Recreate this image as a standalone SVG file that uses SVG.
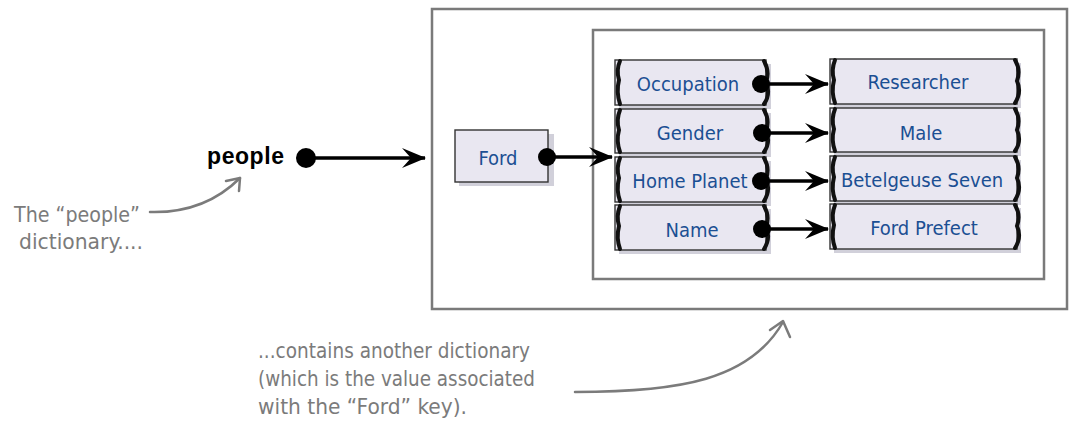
<svg xmlns="http://www.w3.org/2000/svg" width="1070" height="429" viewBox="0 0 1070 429">
<style>
.box{fill:none;stroke:#7a7a7a;stroke-width:2.5}
.cell{fill:#e9e7f1;stroke:#333;stroke-width:1.4}
.shadow{fill:#9a96ad;opacity:0.45}
.edge{fill:none;stroke:#111;stroke-width:4;stroke-linecap:round}
.ct{font-family:"DejaVu Sans Condensed","Liberation Sans Narrow","Liberation Sans",sans-serif;font-size:20px;fill:#1b4f93;text-anchor:middle}
.note{font-family:"DejaVu Sans Condensed","Liberation Sans Narrow","Liberation Sans",sans-serif;font-size:21px;fill:#7b7b7b}
.conn{fill:none;stroke:#000;stroke-width:3.5}
.dot{fill:#000}
.ann{fill:none;stroke:#7b7b7b;stroke-width:2.5;stroke-linecap:round;stroke-linejoin:round}
</style>
<defs>
<marker id="big" markerWidth="24" markerHeight="20" refX="23" refY="10" orient="auto" markerUnits="userSpaceOnUse" viewBox="0 0 24 20">
<path d="M0,0 L24,10 L0,20 L9,10 z" fill="#000"/>
</marker>
</defs>

<rect class="box" x="432" y="9" width="635" height="300"/>
<rect class="box" x="593" y="30" width="451" height="249"/>

<g id="people">
<text x="207" y="164" font-family="'Liberation Sans', Arial, sans-serif" font-size="23" font-weight="bold" fill="#000" textLength="77">people</text>
</g>

<g id="ford">
<rect class="shadow" x="459" y="134" width="95" height="52"/>
<rect class="cell" x="455" y="130" width="93" height="52"/>
<text class="ct" x="498" y="165">Ford</text>
</g>

<g id="occupation">
<rect class="shadow" x="619" y="64" width="152" height="45"/>
<rect class="cell" x="615" y="60" width="151" height="45"/>
<path class="edge" d="M620,61 Q616,70 619,80 Q616,92 620,104"/>
<path class="edge" d="M764,61 Q770,72 766,82 Q771,94 764,104"/>
<text class="ct" x="688" y="91">Occupation</text>
</g>
<g id="gender">
<rect class="shadow" x="619" y="113" width="152" height="44"/>
<rect class="cell" x="615" y="109" width="151" height="44"/>
<path class="edge" d="M620,110 Q616,120 619,130 Q616,141 620,152"/>
<path class="edge" d="M764,110 Q770,120 766,131 Q771,142 764,152"/>
<text class="ct" x="690" y="140">Gender</text>
</g>
<g id="homeplanet">
<rect class="shadow" x="619" y="161" width="152" height="45"/>
<rect class="cell" x="615" y="157" width="151" height="45"/>
<path class="edge" d="M620,158 Q616,168 619,178 Q616,190 620,201"/>
<path class="edge" d="M764,158 Q770,168 766,179 Q771,190 764,201"/>
<text class="ct" x="690" y="188">Home Planet</text>
</g>
<g id="name">
<rect class="shadow" x="619" y="209" width="152" height="45"/>
<rect class="cell" x="615" y="205" width="151" height="45"/>
<path class="edge" d="M620,206 Q616,216 619,226 Q616,238 620,249"/>
<path class="edge" d="M764,206 Q770,216 766,227 Q771,238 764,249"/>
<text class="ct" x="692" y="237">Name</text>
</g>

<g id="researcher">
<rect class="shadow" x="834" y="63" width="187" height="45"/>
<rect class="cell" x="830" y="59" width="187" height="45"/>
<path class="edge" d="M835,60 Q831,70 834,80 Q831,92 835,103"/>
<path class="edge" d="M1015,60 Q1021,70 1017,81 Q1022,92 1015,103"/>
<text class="ct" x="918" y="89">Researcher</text>
</g>
<g id="male">
<rect class="shadow" x="834" y="112" width="187" height="44"/>
<rect class="cell" x="830" y="108" width="187" height="44"/>
<path class="edge" d="M835,109 Q831,119 834,129 Q831,140 835,151"/>
<path class="edge" d="M1015,109 Q1021,119 1017,130 Q1022,141 1015,151"/>
<text class="ct" x="921" y="140">Male</text>
</g>
<g id="betelgeuse">
<rect class="shadow" x="834" y="160" width="187" height="45"/>
<rect class="cell" x="830" y="156" width="187" height="45"/>
<path class="edge" d="M835,157 Q831,167 834,177 Q831,189 835,200"/>
<path class="edge" d="M1015,157 Q1021,167 1017,178 Q1022,189 1015,200"/>
<text class="ct" x="922" y="187">Betelgeuse Seven</text>
</g>
<g id="fordprefect">
<rect class="shadow" x="834" y="208" width="187" height="45"/>
<rect class="cell" x="830" y="204" width="187" height="45"/>
<path class="edge" d="M835,205 Q831,215 834,225 Q831,237 835,248"/>
<path class="edge" d="M1015,205 Q1021,215 1017,226 Q1022,237 1015,248"/>
<text class="ct" x="924" y="235">Ford Prefect</text>
</g>

<g id="connectors">
<circle class="dot" cx="306" cy="158" r="10"/>
<line class="conn" x1="306" y1="158" x2="425" y2="158" marker-end="url(#big)"/>
<circle class="dot" cx="547" cy="157" r="9"/>
<line class="conn" x1="547" y1="157" x2="612" y2="157" marker-end="url(#big)"/>
<circle class="dot" cx="761" cy="84" r="9"/>
<line class="conn" x1="761" y1="84" x2="828" y2="84" marker-end="url(#big)"/>
<circle class="dot" cx="762" cy="133" r="9"/>
<line class="conn" x1="762" y1="133" x2="828" y2="133" marker-end="url(#big)"/>
<circle class="dot" cx="761" cy="181" r="9"/>
<line class="conn" x1="761" y1="181" x2="828" y2="181" marker-end="url(#big)"/>
<circle class="dot" cx="762" cy="229" r="9"/>
<line class="conn" x1="762" y1="229" x2="828" y2="229" marker-end="url(#big)"/>
</g>

<g id="note-people">
<text class="note" x="14" y="222" textLength="126" lengthAdjust="spacingAndGlyphs">The “people”</text>
<text class="note" x="19" y="249" textLength="124" lengthAdjust="spacingAndGlyphs">dictionary....</text>
<path class="ann" d="M150,212 C185,213 215,203 240,178"/>
<path class="ann" d="M226,181 L240,178 L239,191"/>
</g>

<g id="note-ford">
<text class="note" x="258" y="358" textLength="272" lengthAdjust="spacingAndGlyphs">...contains another dictionary</text>
<text class="note" x="258" y="386" textLength="277" lengthAdjust="spacingAndGlyphs">(which is the value associated</text>
<text class="note" x="258" y="414" textLength="209" lengthAdjust="spacingAndGlyphs">with the “Ford” key).</text>
<path class="ann" d="M575,392 C680,392 750,380 783,322"/>
<path class="ann" d="M770,330 L783,321 L790,337"/>
</g>
</svg>
